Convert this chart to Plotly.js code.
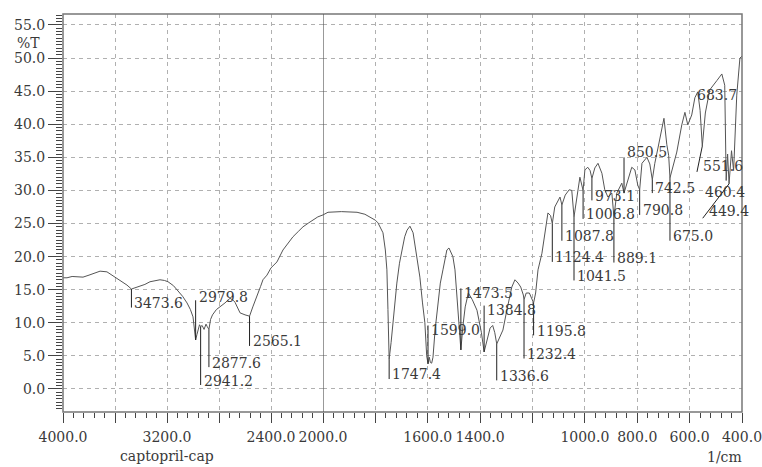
<!DOCTYPE html>
<html><head><meta charset="utf-8">
<script src="https://cdn.plot.ly/plotly-3.0.1.min.js"></script>
<style>html,body{margin:0;padding:0;background:#fff}</style>
</head><body><div id="chart" style="width:762px;height:467px"></div>
<script>
// High wavenumber region (4000 -> 2000 1/cm)
const wnHigh = [4000,3969,3930,3900,3846,3800,3760,3715,3662,3630,3600,3550,3508,3473.6,3440,3408,3370,3331,3290,3254,3220,3192,3150,3123,3080,3046,3020,3000,2988,2979.8,2970,2960,2950,2941.2,2930,2915,2900,2890,2877.6,2865,2850,2820,2792,2754,2715,2690,2677,2655,2638,2600,2565.1,2540,2508,2480,2462,2431,2400,2354,2308,2260,2231,2190,2154,2110,2077,2040,2000];
const tHigh  = [16.8,16.8,17.0,17.0,16.9,17.2,17.5,17.8,17.7,17.3,16.9,16.2,15.7,15.1,15.3,15.5,15.8,16.2,16.4,16.5,16.4,16.2,15.6,15.0,14.0,13.0,12.0,10.9,9.2,7.4,8.2,8.9,9.7,9.4,9.6,9.0,9.8,9.4,9.0,10.5,11.2,12.0,12.4,13.0,13.7,13.4,13.1,12.2,11.5,11.2,11.0,12.4,13.9,15.5,16.5,17.2,18.3,19.2,21.0,22.2,23.0,23.8,24.5,25.1,25.5,26.0,26.3];

// Low wavenumber region (2000 -> 400 1/cm)
const wnLow = [2000,1981,1930,1870,1840,1821,1800,1790,1771,1762,1756,1752,1747.4,1740,1733,1725,1718,1708,1698,1688,1679,1668,1656,1645,1630,1620,1611,1604,1599,1594,1590,1585,1580,1572,1561,1552,1542,1527,1519,1511,1504,1496,1485,1478,1473.5,1466,1457,1445,1430,1412,1395,1384.8,1375,1362,1352,1344,1336.6,1325,1313,1298,1279,1267,1255,1245,1235,1232.4,1224,1212,1205,1195.8,1188,1179,1164,1153,1141,1131,1124.4,1115,1095,1087.8,1075,1060,1050,1041.5,1031,1019,1006.8,1000,989,980,973.1,962,950,935,924,912,897,889.1,878,859,850.5,836,821,809,798,790.8,782,763,752,742.5,733,721,706,698,687,680,675,662,649,630,618,607,592,580,569,560,551.6,540,523,496,477,466,460.4,455,449.4,440,432,420,408,400];
const tLow  = [26.3,26.7,26.8,26.7,26.4,26.0,25.5,25.1,23.6,21.0,18.0,12.0,4.5,7.0,10.0,13.5,16.0,19.0,21.3,23.0,24.0,24.6,23.6,21.0,16.9,13.0,10.0,5.0,3.8,4.8,4.0,3.9,4.8,8.9,13.4,16.0,18.0,21.0,21.3,20.6,20.0,18.0,12.0,8.5,5.9,9.4,12.4,14.5,13.5,11.9,8.5,5.6,7.2,9.2,9.6,8.5,6.8,7.8,8.9,11.9,15.4,16.5,16.0,15.4,14.2,13.5,14.5,14.5,13.8,13.0,14.5,18.0,20.5,23.5,26.6,26.2,25.0,27.5,29.0,27.8,29.3,30.1,30.0,26.0,29.0,32.0,30.0,33.1,33.5,33.0,31.8,33.4,34.1,32.6,30.1,29.0,29.6,26.0,29.6,31.1,29.6,31.6,33.5,33.1,30.8,30.1,34.1,35.0,34.0,31.6,34.1,36.4,39.4,40.9,36.9,35.3,31.9,34.0,35.8,39.9,41.8,39.9,41.4,44.0,44.9,42.1,36.7,41.7,45.2,46.6,47.6,45.9,31.5,35.5,31.0,36.0,33.0,44.4,50.0,50.3];

// Peak labels
const peakText = ["3473.6","2979.8","2941.2","2877.6","2565.1","1747.4","1599.0","1473.5","1384.8","1336.6","1232.4","1195.8","1124.4","1087.8","1041.5","1006.8","973.1","889.1","850.5","790.8","742.5","675.0","683.7","551.6","460.4","449.4"];
const peakAxis = ["x","x","x","x","x","x2","x2","x2","x2","x2","x2","x2","x2","x2","x2","x2","x2","x2","x2","x2","x2","x2","x2","x2","x2","x2"];
const peakWn   = [3473.6,2979.8,2941.2,2877.6,2565.1,1747.4,1599.0,1473.5,1384.8,1336.6,1232.4,1195.8,1124.4,1087.8,1041.5,1006.8,973.1,889.1,850.5,790.8,742.5,675.0,683.7,551.6,460.4,449.4];
const peakT    = [15.1,7.4,9.4,9.0,11.0,4.5,3.8,5.9,5.6,6.8,13.5,13.0,25.0,27.8,26.0,30.0,31.8,26.0,29.6,30.1,31.6,31.9,39.0,36.7,31.5,31.0];
const textWn   = [3473.6,2979.8,2941.2,2877.6,2565.1,1747.4,1599.0,1473.5,1384.8,1336.6,1232.4,1195.8,1124.4,1087.8,1041.5,1006.8,973.1,889.1,850.5,790.8,742.5,675.0,584,561,553,538];
const textT    = [13.0,13.9,1.2,4.0,7.2,2.2,8.9,14.5,11.9,2.0,5.3,8.8,19.9,23.1,17.1,26.4,29.2,19.8,35.8,27.0,30.3,23.1,44.4,33.7,29.8,26.9];
const leadWn   = [3473.6,2979.8,2941.2,2877.6,2565.1,1747.4,1599.0,1473.5,1384.8,1336.6,1232.4,1195.8,1124.4,1087.8,1041.5,1006.8,973.1,889.1,850.5,790.8,742.5,675.0,null,572,null,550];
const leadT    = [12.3,13.4,0.6,3.3,6.5,1.5,9.6,15.2,12.6,1.3,4.6,8.1,19.2,22.4,16.4,25.7,28.5,19.1,35.0,26.3,29.6,22.4,null,32.8,null,25.8];

const xTickVals1 = [4000,3600,3200,2800,2400,2000];
const xTickText1 = ["4000.0","","3200.0","","2400.0","2000.0"];
const xTickVals2 = [2000,1800,1600,1400,1200,1000,800,600,400];
const xTickText2 = ["","","1600.0","1400.0","","1000.0","800.0","600.0","400.0"];

const FONT = "DejaVu Serif";
const FS = 14;
const TXT = "#3a3a3a";
const lineColor = "#555";

function leaders(axis){
  const xs=[], ys=[];
  for(let i=0;i<peakText.length;i++){
    if(peakAxis[i]!==axis || leadWn[i]===null) continue;
    xs.push(peakWn[i], leadWn[i], null);
    ys.push(peakT[i], leadT[i], null);
  }
  return {x:xs,y:ys,xaxis:axis,yaxis:"y",mode:"lines",line:{color:"#222",width:1},hoverinfo:"skip",showlegend:false};
}

const traces = [
  {x:wnHigh,y:tHigh,xaxis:"x",yaxis:"y",mode:"lines",line:{color:lineColor,width:1},showlegend:false},
  {x:wnLow,y:tLow,xaxis:"x2",yaxis:"y",mode:"lines",line:{color:lineColor,width:1},showlegend:false},
  leaders("x"), leaders("x2")
];

const annotations = peakText.map((t,i)=>({
  text:t, x:textWn[i], y:textT[i], xref:peakAxis[i], yref:"y",
  xanchor:"left", yanchor:"middle", xshift:1, showarrow:false,
  font:{family:FONT,size:FS,color:TXT}
}));
annotations.push(
  {text:"%T", xref:"paper", yref:"paper", x:-0.0515, y:0.927, xanchor:"center", yanchor:"middle", showarrow:false, font:{family:FONT,size:FS,color:TXT}},
  {text:"captopril-cap", xref:"paper", yref:"paper", x:0.153, y:-0.11, xanchor:"center", yanchor:"middle", showarrow:false, font:{family:FONT,size:FS,color:TXT}},
  {text:"1/cm", xref:"paper", yref:"paper", x:0.9735, y:-0.114, xanchor:"center", yanchor:"middle", showarrow:false, font:{family:FONT,size:FS,color:TXT}}
);

const split = 260/679;
const gridStyle = {showgrid:true, gridcolor:"#b0b0b0", gridwidth:1, griddash:"4px,4px", zeroline:false, showline:false};
const layout = {
  width:762, height:467,
  margin:{l:63,r:20,t:14,b:55,pad:0},
  paper_bgcolor:"#fff", plot_bgcolor:"#fff",
  showlegend:false,
  font:{family:FONT,size:FS,color:TXT},
  xaxis:Object.assign({domain:[0,split], range:[4000,2000], anchor:"y",
    tickmode:"array", tickvals:xTickVals1, ticktext:xTickText1,
    ticks:"outside", ticklen:10, tickwidth:1, tickcolor:"#444", ticklabelstandoff:2,
    ticklabeloverflow:"allow",
    tickfont:{family:FONT,size:FS,color:TXT},
    minor:{tick0:0,dtick:80,ticks:"outside",ticklen:5,tickcolor:"#444",showgrid:false}}, gridStyle),
  xaxis2:Object.assign({domain:[split,1], range:[2000,400], anchor:"y",
    tickmode:"array", tickvals:xTickVals2, ticktext:xTickText2,
    ticks:"outside", ticklen:10, tickwidth:1, tickcolor:"#444", ticklabelstandoff:2,
    ticklabeloverflow:"allow",
    tickfont:{family:FONT,size:FS,color:TXT},
    minor:{tick0:0,dtick:40,ticks:"outside",ticklen:5,tickcolor:"#444",showgrid:false}}, gridStyle),
  yaxis:Object.assign({domain:[0,1], range:[-3.48,56.66], anchor:"x",
    tickmode:"linear", tick0:0, dtick:5, tickformat:".1f",
    ticks:"outside", ticklen:14, tickwidth:1, tickcolor:"#444",
    ticklabeloverflow:"allow",
    tickfont:{family:FONT,size:FS,color:TXT},
    minor:{tick0:0,dtick:0.5,ticks:"outside",ticklen:6,tickcolor:"#444",showgrid:false}}, gridStyle),
  shapes:[
    {type:"rect", xref:"paper", yref:"paper", x0:0, x1:1, y0:0, y1:1, line:{color:"#777",width:1.5}, layer:"above"},
    {type:"line", xref:"x2", yref:"paper", x0:2000, x1:2000, y0:0, y1:1, line:{color:"#555",width:1.2}, layer:"above"}
  ],
  annotations:annotations
};
Plotly.newPlot("chart", traces, layout, {staticPlot:true, displayModeBar:false});
</script></body></html>
